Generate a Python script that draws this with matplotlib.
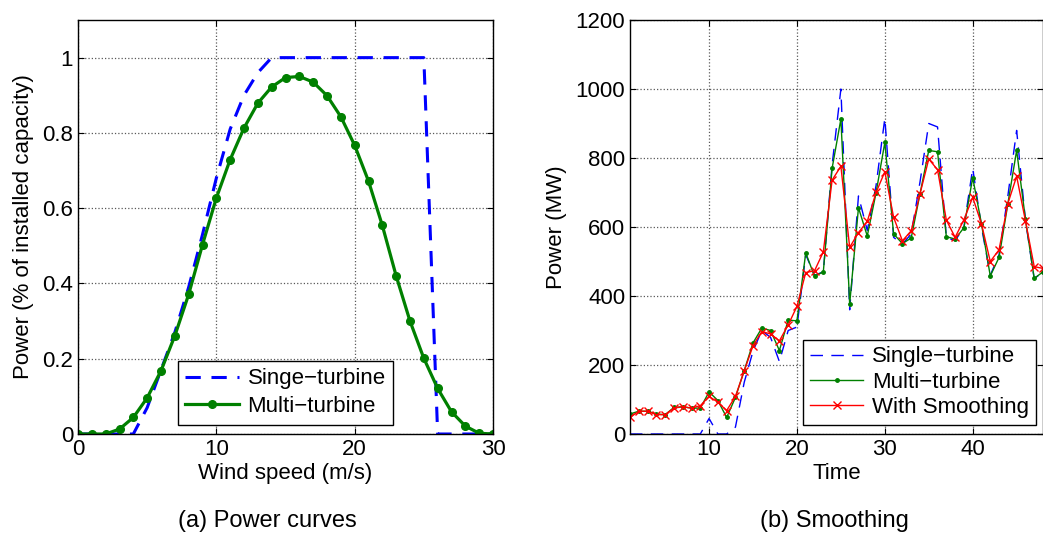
import numpy as np
import matplotlib
matplotlib.use("Agg")
import matplotlib.pyplot as plt

plt.rcParams['font.family'] = ['Liberation Sans', 'DejaVu Sans']
plt.rcParams['font.size'] = 16

# (a) power curves, wind speed 0..30 m/s
wind_speed = list(range(0, 31))
single_curve = [0, 0, 0, 0, 0, 0.07, 0.17, 0.27, 0.39, 0.53, 0.68, 0.81, 0.90, 0.96,
                1, 1, 1, 1, 1, 1, 1, 1, 1, 1, 1, 1, 0, 0, 0, 0, 0]
multi_curve = [0, 0, 0, 0.013, 0.044, 0.096, 0.168, 0.261, 0.371, 0.503, 0.627, 0.729,
               0.813, 0.879, 0.922, 0.947, 0.950, 0.935, 0.899, 0.843, 0.767, 0.672,
               0.554, 0.420, 0.300, 0.201, 0.121, 0.059, 0.021, 0.002, 0]

# (b) smoothing, time steps 1..48
time = list(range(1, 49))
single_power = [0, 0, 0, 0, 0, 0, 0, 0, 0, 45, 0, 0, 20, 150, 240, 300, 280, 210, 300, 310,
                520, 460, 470, 780, 1000, 360, 690, 590, 720, 915, 570, 550, 580, 730, 900,
                890, 570, 560, 600, 770, 600, 460, 520, 690, 880, 620, 450, 470]
multi_power = [58, 66, 66, 58, 56, 77, 79, 75, 75, 122, 97, 48, 106, 184, 264, 307, 300,
               242, 330, 328, 525, 457, 470, 770, 913, 377, 656, 574, 699, 845, 580, 552,
               568, 696, 822, 818, 572, 565, 598, 743, 609, 458, 512, 667, 822, 623, 451, 470]
smooth_power = [48, 66, 66, 56, 56, 75, 79, 75, 82, 109, 92, 68, 109, 183, 256, 297, 290,
                270, 316, 370, 468, 473, 528, 736, 776, 541, 584, 616, 700, 760, 628, 560,
                589, 696, 797, 766, 620, 570, 621, 686, 609, 500, 534, 668, 747, 618, 485, 480]

fig = plt.figure(figsize=(10.43, 5.36), dpi=100)

def style_axes(ax):
    ax.grid(True, linestyle=':', color='0.35', linewidth=0.9)
    ax.tick_params(direction='in', length=4, width=0.8, top=True, right=True, labelsize=16)
    for sp in ax.spines.values():
        sp.set_linewidth(1.0)

# left panel
ax1 = fig.add_axes([78 / 1043, 102 / 536, 415 / 1043, 414 / 536])
ax1.plot(wind_speed, single_curve, '--', color='blue', linewidth=2.2, dashes=(5, 3.5),
         label='Singe\u2212turbine')
ax1.plot(wind_speed, multi_curve, '-o', color='green', linewidth=2.3, markersize=5.5,
         label='Multi\u2212turbine')
ax1.set_xlim(0, 30)
ax1.set_ylim(0, 1.1)
ax1.set_xticks([0, 10, 20, 30])
ax1.set_yticks([0, 0.2, 0.4, 0.6, 0.8, 1])
ax1.set_yticklabels(['0', '0.2', '0.4', '0.6', '0.8', '1'])
ax1.set_xlabel('Wind speed (m/s)', labelpad=2)
ax1.set_ylabel('Power (% of installed capacity)', labelpad=6)
style_axes(ax1)
leg1 = ax1.legend(loc='lower center', bbox_to_anchor=(0.5, 0.022), borderaxespad=0,
                  fancybox=False, edgecolor='black', framealpha=1, handlelength=2.4,
                  borderpad=0.35, labelspacing=0.3, handletextpad=0.4, fontsize=16)
leg1.get_frame().set_linewidth(1.0)
fig.text(267 / 1043, 1 - 521 / 536, '(a) Power curves', ha='center', va='center', fontsize=17)

# right panel
ax2 = fig.add_axes([630 / 1043, 102 / 536, 413 / 1043, 414 / 536])
ax2.plot(time, single_power, '--', color='blue', linewidth=1.0, dashes=(9, 6),
         label='Single\u2212turbine')
ax2.plot(time, multi_power, '-', marker='.', color='green', linewidth=1.0, markersize=5,
         label='Multi\u2212turbine')
ax2.plot(time, smooth_power, '-', marker='x', color='red', linewidth=1.0, markersize=6,
         label='With Smoothing')
ax2.set_xlim(1, 48)
ax2.set_ylim(0, 1200)
ax2.set_xticks([10, 20, 30, 40])
ax2.set_yticks(np.arange(0, 1201, 200))
ax2.set_xlabel('Time', labelpad=2)
ax2.set_ylabel('Power (MW)', labelpad=6)
style_axes(ax2)
leg2 = ax2.legend(loc='lower right', bbox_to_anchor=(0.983, 0.022), borderaxespad=0,
                  fancybox=False, edgecolor='black', framealpha=1, handlelength=2.4,
                  borderpad=0.3, labelspacing=0.2, handletextpad=0.4, fontsize=16)
leg2.get_frame().set_linewidth(1.0)
fig.text(834 / 1043, 1 - 521 / 536, '(b) Smoothing', ha='center', va='center', fontsize=17)

fig.savefig('out.png', dpi=100)
